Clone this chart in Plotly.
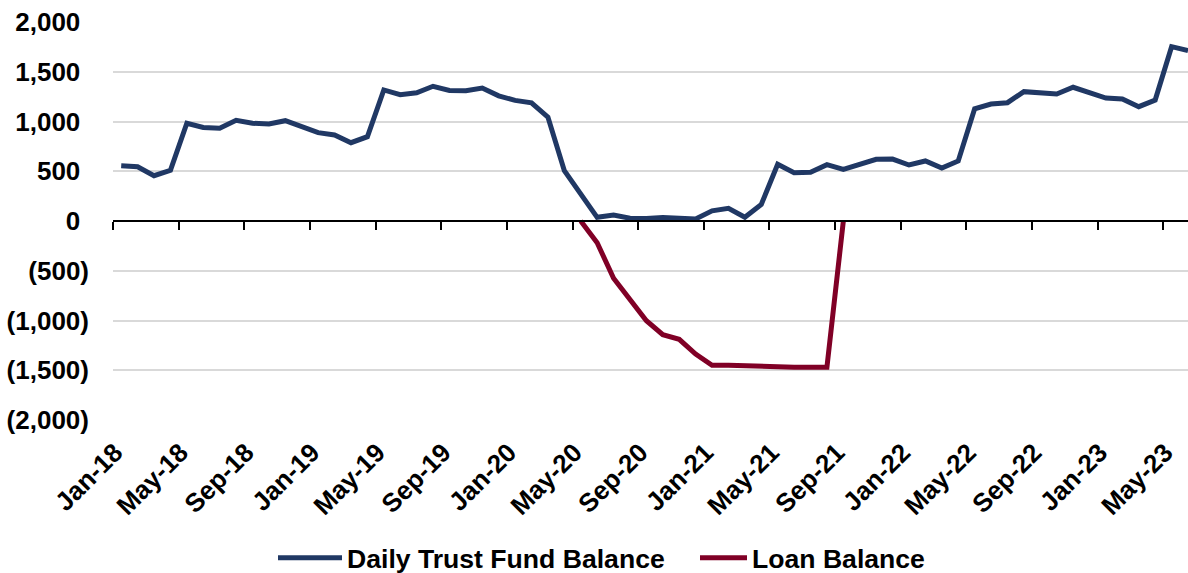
import plotly.graph_objects as go

months = ["Jan-18","Feb-18","Mar-18","Apr-18","May-18","Jun-18","Jul-18","Aug-18","Sep-18","Oct-18","Nov-18","Dec-18",
          "Jan-19","Feb-19","Mar-19","Apr-19","May-19","Jun-19","Jul-19","Aug-19","Sep-19","Oct-19","Nov-19","Dec-19",
          "Jan-20","Feb-20","Mar-20","Apr-20","May-20","Jun-20","Jul-20","Aug-20","Sep-20","Oct-20","Nov-20","Dec-20",
          "Jan-21","Feb-21","Mar-21","Apr-21","May-21","Jun-21","Jul-21","Aug-21","Sep-21","Oct-21","Nov-21","Dec-21",
          "Jan-22","Feb-22","Mar-22","Apr-22","May-22","Jun-22","Jul-22","Aug-22","Sep-22","Oct-22","Nov-22","Dec-22",
          "Jan-23","Feb-23","Mar-23","Apr-23","May-23","Jun-23"]

trust_fund = [555, 545, 455, 510, 982, 940, 932, 1012, 982, 976, 1008, 950,
              888, 864, 787, 847, 1317, 1270, 1288, 1354, 1312, 1310, 1337, 1258,
              1212, 1187, 1044, 506, 270, 37, 60, 27, 25, 35, 27, 20,
              102, 128, 38, 167, 570, 486, 490, 566, 519, 566, 620, 622,
              563, 603, 532, 603, 1128, 1176, 1189, 1300, 1283, 1276, 1344, 1293,
              1236, 1226, 1149, 1216, 1752, 1712]

loan = [None]*28 + [0, -218, -576, -794, -1002, -1143, -1189, -1337, -1451, -1450, -1455,
                    -1470, -1470, -1470, -1470, -1470, 0] + [None]*21

y_ticks = [-2000, -1500, -1000, -500, 0, 500, 1000, 1500, 2000]
y_labels = ["(2,000)", "(1,500)", "(1,000)", "(500)", "0", "500", "1,000", "1,500", "2,000"]

label_idx = list(range(0, len(months), 4))
x = list(range(len(months)))

# Excel-style alignment: positive labels keep an invisible ")" so digits line up
pad = "<span style='color:rgba(0,0,0,0)'>)</span>"
y_text = [lab if lab.startswith("(") else lab + pad for lab in y_labels]

W, H = 1188, 573
FONT = "Liberation Sans, Arial, sans-serif"
fig = go.Figure()
fig.add_trace(go.Scatter(x=x, y=trust_fund, mode="lines", name="Daily Trust Fund Balance",
                         line=dict(color="#203864", width=5), legend="legend"))
fig.add_trace(go.Scatter(x=x, y=loan, mode="lines", name="Loan Balance",
                         line=dict(color="#800026", width=5), legend="legend2"))
fig.add_trace(go.Scatter(x=[None], y=[None], xaxis="x2", showlegend=False, hoverinfo="skip"))

xr = [-0.5, len(months) - 1.0]
tick_font = dict(family=FONT, size=26, color="black", weight="bold")
legend_font = dict(family=FONT, size=26.6, color="black", weight="bold")
fig.update_layout(
    width=W, height=H,
    margin=dict(l=113, r=0, t=22, b=153),
    plot_bgcolor="white", paper_bgcolor="white",
    font=dict(family=FONT, size=26, color="black", weight="bold"),
    xaxis=dict(range=xr, tickmode="array", tickvals=[i - 0.5 for i in label_idx],
               ticktext=[months[i] for i in label_idx], tickangle=-45, ticks="",
               showgrid=False, zeroline=False, showline=False, automargin=False,
               tickfont=tick_font, ticklabelstandoff=11, ticklabelshift=2),
    xaxis2=dict(range=xr, overlaying="x", anchor="free", position=0.5, automargin=False,
                tickmode="array", tickvals=[i - 0.5 for i in label_idx],
                showticklabels=False, ticks="outside", ticklen=8, tickwidth=1.5, tickcolor="black",
                showline=True, linecolor="black", linewidth=1.5, showgrid=False, zeroline=False),
    yaxis=dict(range=[-2000, 2000], tickmode="array", tickvals=y_ticks, ticktext=y_text,
               showgrid=True, gridcolor="#D9D9D9", gridwidth=1.5, zeroline=False, showline=False,
               ticks="", ticklabelstandoff=23, automargin=False, tickfont=tick_font),
    legend=dict(orientation="h", xref="container", yref="container",
                x=273 / W, xanchor="left", y=(H - 558) / H, yanchor="middle",
                font=legend_font, bgcolor="rgba(0,0,0,0)", itemwidth=64),
    legend2=dict(orientation="h", xref="container", yref="container",
                 x=695 / W, xanchor="left", y=(H - 558) / H, yanchor="middle",
                 font=legend_font, bgcolor="rgba(0,0,0,0)", itemwidth=47),
    showlegend=True,
)

fig.write_html("out.html", config={"displayModeBar": False},
               post_script="document.body.style.margin='0';document.documentElement.style.margin='0';")
